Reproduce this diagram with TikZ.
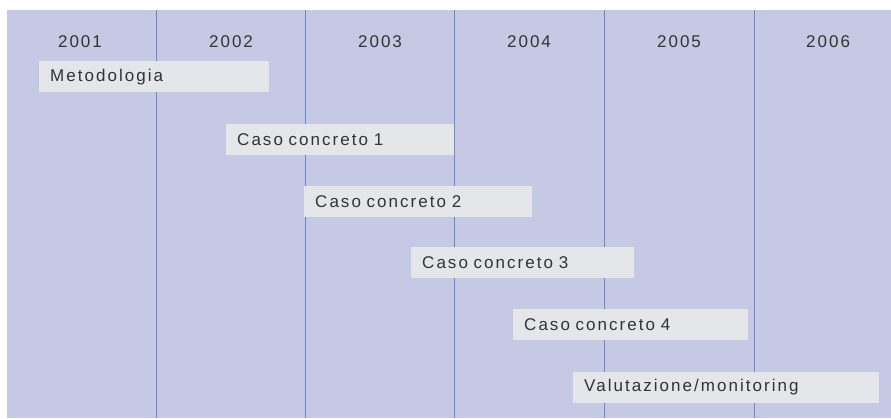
\documentclass[tikz,border=0pt]{standalone}
\usepackage{fontspec}
\setmainfont{Liberation Sans}[LetterSpace=12,WordSpace=1.6]
\definecolor{bgcol}{HTML}{C5C9E4}
\definecolor{linecol}{HTML}{7088C8}
\definecolor{barcol}{HTML}{E5E6EA}
\definecolor{txtcol}{HTML}{333333}
\tikzset{
  yearlbl/.style={text=txtcol, font=\fontsize{17}{19}\selectfont, inner sep=0pt},
  bar/.style={fill=barcol, minimum height=31pt, inner xsep=11pt, inner ysep=0pt, anchor=west, align=left, text=txtcol, font=\fontsize{17}{19}\selectfont},
  grid/.style={draw=linecol, line width=1pt}
}
\begin{document}
\begin{tikzpicture}[x=1pt,y=-1pt]
\useasboundingbox (0,0) rectangle (891,419);
\fill[white] (0,0) rectangle (891,419);
\fill[bgcol] (7,10) rectangle (891,418);
\foreach \xx in {156.5,305.7,454.6,604.3,754}{
  \draw[grid] (\xx,10) -- (\xx,418);
}
\node[yearlbl] (y1) at (80,42) {2001};
\node[yearlbl] (y2) at (231,42) {2002};
\node[yearlbl] (y3) at (380,42) {2003};
\node[yearlbl] (y4) at (529,42) {2004};
\node[yearlbl] (y5) at (679,42) {2005};
\node[yearlbl] (y6) at (828,42) {2006};
\node[bar, text width=208pt] (b0) at (39,77) {Metodologia};
\node[bar, text width=206pt] (b1) at (226,139.5) {Caso concreto 1};
\node[bar, text width=206pt] (b2) at (304,201.5) {Caso concreto 2};
\node[bar, text width=201pt] (b3) at (411,262.5) {Caso concreto 3};
\node[bar, text width=213pt] (b4) at (513,324.5) {Caso concreto 4};
\node[bar, text width=284pt] (b5) at (573,387.5) {Valutazione/monitoring};
\end{tikzpicture}
\end{document}
